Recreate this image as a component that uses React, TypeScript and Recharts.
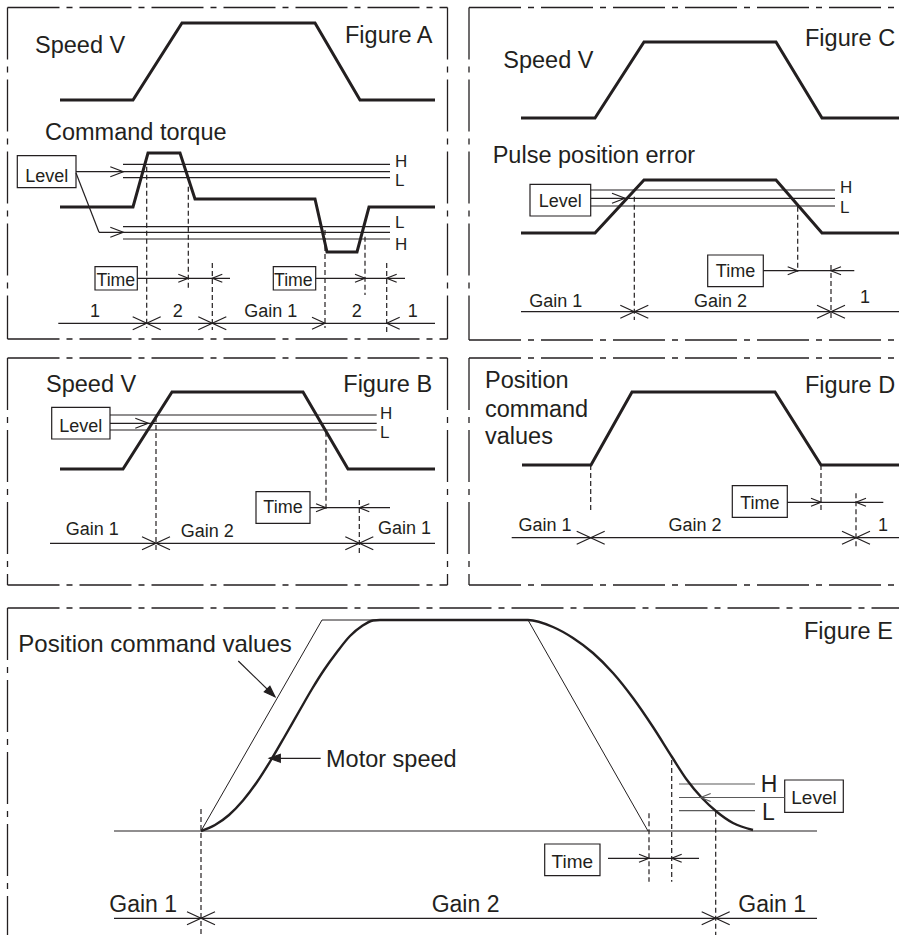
import React from "react";
import {
  ComposedChart,
  Line,
  XAxis,
  YAxis,
  ReferenceLine,
  ReferenceDot,
  ReferenceArea,
} from "recharts";

const W = 899;
const H = 935;
const INK = "#231f20";
const FONT = "'Liberation Sans', Arial, Helvetica, sans-serif";

type Pt = { x: number; y: number };

// ---- waveforms (x = time, y = signal level, page units, y grows downwards)
const speedA: Pt[] = [
  { x: 60, y: 100 }, { x: 133, y: 100 }, { x: 182, y: 23 },
  { x: 315, y: 23 }, { x: 360, y: 100 }, { x: 435, y: 100 },
];
const torqueA: Pt[] = [
  { x: 60, y: 207 }, { x: 133, y: 207 }, { x: 148, y: 153 }, { x: 180, y: 153 },
  { x: 195, y: 199 }, { x: 315, y: 199 }, { x: 327, y: 252 }, { x: 357, y: 252 },
  { x: 369, y: 207 }, { x: 435, y: 207 },
];
const speedC: Pt[] = [
  { x: 521, y: 118 }, { x: 595, y: 118 }, { x: 644, y: 42 },
  { x: 776, y: 42 }, { x: 822, y: 118 }, { x: 899, y: 118 },
];
const errorC: Pt[] = [
  { x: 521, y: 233 }, { x: 595, y: 233 }, { x: 644, y: 180 },
  { x: 776, y: 180 }, { x: 822, y: 233 }, { x: 899, y: 233 },
];
const speedB: Pt[] = [
  { x: 60, y: 469 }, { x: 123, y: 469 }, { x: 172, y: 392 },
  { x: 303, y: 392 }, { x: 348, y: 469 }, { x: 435, y: 469 },
];
const commandD: Pt[] = [
  { x: 522, y: 465 }, { x: 591, y: 465 }, { x: 632, y: 392 },
  { x: 775, y: 392 }, { x: 821, y: 465 }, { x: 899, y: 465 },
];
const commandE: Pt[] = [
  { x: 201, y: 831 }, { x: 322, y: 620 }, { x: 528, y: 620 }, { x: 648, y: 831 },
];
const motorE: Pt[] = [
  { x: 201, y: 831 }, { x: 215, y: 825 }, { x: 229, y: 815 }, { x: 243, y: 800.5 },
  { x: 257, y: 782 }, { x: 271, y: 760 }, { x: 285, y: 736 }, { x: 299, y: 711.5 },
  { x: 312, y: 689 }, { x: 324, y: 670 }, { x: 337, y: 652 }, { x: 350, y: 636 },
  { x: 362, y: 626 }, { x: 373, y: 620.5 }, { x: 380, y: 620 }, { x: 528, y: 620 },
  { x: 553, y: 627 }, { x: 573, y: 638 }, { x: 593, y: 653 }, { x: 613, y: 673 },
  { x: 633, y: 698 }, { x: 653, y: 727 }, { x: 672, y: 757 }, { x: 687, y: 780 },
  { x: 702, y: 798 }, { x: 717, y: 812 }, { x: 733, y: 823 }, { x: 753, y: 830 },
];

const waves = [
  { id: "speedA", data: speedA, w: 3, type: "linear" },
  { id: "torqueA", data: torqueA, w: 3, type: "linear" },
  { id: "speedC", data: speedC, w: 3, type: "linear" },
  { id: "errorC", data: errorC, w: 3, type: "linear" },
  { id: "speedB", data: speedB, w: 3, type: "linear" },
  { id: "commandD", data: commandD, w: 3, type: "linear" },
  { id: "commandE", data: commandE, w: 1, type: "linear" },
  { id: "motorE", data: motorE, w: 2.4, type: "monotone" },
];

// ---- layout of the annotations
const frames = [
  { x1: 7.5, y1: 7.5, x2: 447.5, y2: 339, sides: "tlbr" },
  { x1: 469, y1: 7.5, x2: 899, y2: 340, sides: "tlb" },
  { x1: 7.5, y1: 358, x2: 447.5, y2: 585, sides: "tlbr" },
  { x1: 469, y1: 358, x2: 899, y2: 585, sides: "tlb" },
  { x1: 7.5, y1: 608, x2: 899, y2: 935, sides: "tl" },
];

// thin solid lines
const thin = [
  // A levels
  { x1: 123, y1: 164.3, x2: 390, y2: 164.3 },
  { x1: 76, y1: 171.7, x2: 390, y2: 171.7 },
  { x1: 123, y1: 177.7, x2: 390, y2: 177.7 },
  { x1: 123, y1: 226.7, x2: 390, y2: 226.7 },
  { x1: 99, y1: 232.3, x2: 390, y2: 232.3 },
  { x1: 123, y1: 239, x2: 390, y2: 239 },
  { x1: 76, y1: 173, x2: 99, y2: 232.3 },
  // C levels
  { x1: 590.7, y1: 190, x2: 835, y2: 190 },
  { x1: 590.7, y1: 198.3, x2: 835, y2: 198.3 },
  { x1: 590.7, y1: 206, x2: 835, y2: 206 },
  // B levels
  { x1: 110, y1: 415, x2: 376.7, y2: 415 },
  { x1: 110, y1: 423.3, x2: 376.7, y2: 423.3 },
  { x1: 110, y1: 430, x2: 376.7, y2: 430 },
  // E baseline and pointers
  { x1: 114, y1: 831, x2: 817, y2: 831 },
  { x1: 238.3, y1: 661, x2: 275, y2: 696.7 },
  { x1: 320.7, y1: 758.3, x2: 269.3, y2: 758.3 },
];
const greyLevelsE = [
  { x1: 679, y1: 784, x2: 755, y2: 784 },
  { x1: 679, y1: 797.5, x2: 784.7, y2: 797.5 },
  { x1: 679, y1: 810.7, x2: 755, y2: 810.7 },
];

// dashed vertical markers
const dashes = [
  { x: 146.7, y1: 166.7, y2: 328 }, { x: 188.3, y1: 186.7, y2: 290 },
  { x: 212.3, y1: 263, y2: 330 }, { x: 325, y1: 230, y2: 328 },
  { x: 365, y1: 236.7, y2: 295 }, { x: 386.7, y1: 263, y2: 333 },
  { x: 634.3, y1: 196.7, y2: 320 }, { x: 797.7, y1: 206.7, y2: 271.7 },
  { x: 831, y1: 265, y2: 320 },
  { x: 156, y1: 417, y2: 551.7 }, { x: 326, y1: 431.7, y2: 511.7 },
  { x: 359.3, y1: 500, y2: 553.3 },
  { x: 590.7, y1: 465, y2: 510 }, { x: 821, y1: 465, y2: 510 },
  { x: 856, y1: 493.3, y2: 546.7 },
  { x: 201, y1: 809, y2: 935 }, { x: 649, y1: 813.3, y2: 881.7 },
  { x: 671.7, y1: 760, y2: 881.7 }, { x: 715.7, y1: 811.7, y2: 935 },
];

// "Time" delay lines: arrow into r, arrow into l from the right
const timeLines = [
  { y: 278.3, x1: 137.3, x2: 230, r: 188.3, l: 212.3 },
  { y: 278.3, x1: 315.7, x2: 405, r: 365, l: 386.7 },
  { y: 270.7, x1: 763.3, x2: 854.3, r: 797.7, l: 831 },
  { y: 507.7, x1: 310, x2: 390, r: 326, l: 359.3 },
  { y: 502.3, x1: 787.3, x2: 883.3, r: 821, l: 856 },
  { y: 858.3, x1: 608, x2: 699, r: 649, l: 671.7 },
];

// gain lines with switching marks (x = both heads, r / l = one head)
const gainLines = [
  { y: 323.3, x1: 58.3, x2: 435, x: [146.7, 212.3], r: [325], l: [386.7] },
  { y: 311.7, x1: 521, x2: 899, x: [634.3, 831], r: [], l: [] },
  { y: 543.3, x1: 50, x2: 435, x: [156, 359.3], r: [], l: [] },
  { y: 537.7, x1: 511.7, x2: 899, x: [590.7, 856], r: [], l: [] },
  { y: 918.3, x1: 114, x2: 817, x: [201, 715.7], r: [], l: [] },
];

// arrow heads on the "Level" pointers
const levelHeads = [
  { x: 123.3, y: 171.7, a: 0 }, { x: 123.3, y: 232.3, a: 0 },
  { x: 625, y: 198.3, a: 0 }, { x: 148.3, y: 423.3, a: 0 },
];

const boxes = [
  { x1: 17.3, y1: 155.7, x2: 76, y2: 187.7 },
  { x1: 95, y1: 266.7, x2: 137.3, y2: 290 },
  { x1: 273.3, y1: 266.7, x2: 315.7, y2: 290 },
  { x1: 530, y1: 184.3, x2: 590.7, y2: 216 },
  { x1: 707.7, y1: 255, x2: 763.3, y2: 286.7 },
  { x1: 51.7, y1: 407.3, x2: 110, y2: 439 },
  { x1: 256, y1: 491.7, x2: 310, y2: 523.3 },
  { x1: 732.3, y1: 485.7, x2: 787.3, y2: 517.3 },
  { x1: 784.7, y1: 780, x2: 843.3, y2: 812.3 },
  { x1: 544.7, y1: 844, x2: 600, y2: 875.7 },
];

type Lbl = { s: string; x: number; y: number; f: number; a?: "start" | "middle" };
const labels: Lbl[] = [
  // A
  { s: "Speed V", x: 35, y: 52.7, f: 23.5 },
  { s: "Figure A", x: 345, y: 42.7, f: 23.5 },
  { s: "Command torque", x: 45, y: 140, f: 23.5 },
  { s: "Level", x: 46.7, y: 181.7, f: 18, a: "middle" },
  { s: "H", x: 395, y: 167, f: 17 },
  { s: "L", x: 395, y: 186, f: 17 },
  { s: "L", x: 395, y: 228.3, f: 17 },
  { s: "H", x: 395, y: 250, f: 17 },
  { s: "Time", x: 96.5, y: 286, f: 17.7 },
  { s: "Time", x: 274, y: 286, f: 17.7 },
  { s: "1", x: 95, y: 316.7, f: 18, a: "middle" },
  { s: "2", x: 177.7, y: 316.7, f: 18, a: "middle" },
  { s: "Gain 1", x: 270.7, y: 316.7, f: 18, a: "middle" },
  { s: "2", x: 356.7, y: 316.7, f: 18, a: "middle" },
  { s: "1", x: 412.7, y: 316.7, f: 18, a: "middle" },
  // C
  { s: "Speed V", x: 503.3, y: 67.5, f: 23.5 },
  { s: "Figure C", x: 805, y: 46, f: 23.5 },
  { s: "Pulse position error", x: 492.7, y: 162.5, f: 23.5 },
  { s: "Level", x: 560.3, y: 206.7, f: 18, a: "middle" },
  { s: "H", x: 840, y: 193.3, f: 17 },
  { s: "L", x: 840, y: 213.3, f: 17 },
  { s: "Time", x: 735.5, y: 277.3, f: 18, a: "middle" },
  { s: "Gain 1", x: 555.7, y: 307, f: 18, a: "middle" },
  { s: "Gain 2", x: 720.5, y: 307, f: 18, a: "middle" },
  { s: "1", x: 865, y: 303.3, f: 18, a: "middle" },
  // B
  { s: "Speed V", x: 46, y: 391.7, f: 23.5 },
  { s: "Figure B", x: 343.3, y: 391.7, f: 23.5 },
  { s: "Level", x: 80.8, y: 431.7, f: 18, a: "middle" },
  { s: "H", x: 380, y: 419.3, f: 17 },
  { s: "L", x: 380, y: 437.7, f: 17 },
  { s: "Time", x: 283, y: 512.7, f: 18, a: "middle" },
  { s: "Gain 1", x: 92.2, y: 535, f: 18, a: "middle" },
  { s: "Gain 2", x: 207.2, y: 536.7, f: 18, a: "middle" },
  { s: "Gain 1", x: 404.5, y: 534, f: 18, a: "middle" },
  // D
  { s: "Position", x: 485, y: 388.3, f: 23.5 },
  { s: "command", x: 485, y: 416.7, f: 23.5 },
  { s: "values", x: 485, y: 444.3, f: 23.5 },
  { s: "Figure D", x: 805, y: 393.3, f: 23.5 },
  { s: "Time", x: 759.8, y: 509, f: 18, a: "middle" },
  { s: "Gain 1", x: 545, y: 530.7, f: 18, a: "middle" },
  { s: "Gain 2", x: 695, y: 530.7, f: 18, a: "middle" },
  { s: "1", x: 883, y: 530.7, f: 18, a: "middle" },
  // E
  { s: "Position command values", x: 18.3, y: 651.7, f: 24 },
  { s: "Motor speed", x: 326, y: 766.7, f: 23.5 },
  { s: "Figure E", x: 804, y: 639, f: 23.5 },
  { s: "H", x: 760.7, y: 791.7, f: 23 },
  { s: "L", x: 762, y: 820, f: 23 },
  { s: "Level", x: 814, y: 804.3, f: 19, a: "middle" },
  { s: "Time", x: 572.3, y: 868.3, f: 19, a: "middle" },
  { s: "Gain 1", x: 109.3, y: 911.7, f: 23 },
  { s: "Gain 2", x: 431.7, y: 911.7, f: 23 },
  { s: "Gain 1", x: 738.3, y: 911.7, f: 23 },
];

// ---- drawing helpers
const seg = (
  key: string,
  x1: number, y1: number, x2: number, y2: number,
  w = 1.2, dash?: string, color = INK
) => (
  <ReferenceLine
    key={key}
    segment={[{ x: x1, y: y1 }, { x: x2, y: y2 }]}
    stroke={color}
    strokeWidth={w}
    strokeDasharray={dash}
    ifOverflow="visible"
  />
);

const head = (
  key: string, x: number, y: number, angle: number,
  len = 10, hw = 4, filled = false, color = INK
) => (
  <ReferenceDot
    key={key}
    x={x}
    y={y}
    r={0}
    ifOverflow="visible"
    shape={(p: any) => (
      <path
        d={`M${-len},${-hw}L0,0L${-len},${hw}${filled ? "Z" : ""}`}
        transform={`translate(${p.cx},${p.cy}) rotate(${angle})`}
        fill={filled ? color : "none"}
        stroke={color}
        strokeWidth={1.2}
      />
    )}
  />
);

const text = (key: string, l: Lbl) => (
  <ReferenceDot
    key={key}
    x={l.x}
    y={l.y}
    r={0}
    ifOverflow="visible"
    shape={(p: any) => (
      <text
        x={p.cx}
        y={p.cy}
        fontSize={l.f}
        fontFamily={FONT}
        fill={INK}
        textAnchor={l.a ?? "start"}
      >
        {l.s}
      </text>
    )}
  />
);

export default function App() {
  const frameEls = frames.flatMap((f, i) => {
    const d = "52 7 6 7";
    const out = [];
    if (f.sides.includes("t")) out.push(seg(`ft${i}`, f.x1, f.y1, f.x2, f.y1, 1.3, d));
    if (f.sides.includes("l")) out.push(seg(`fl${i}`, f.x1, f.y1, f.x1, f.y2, 1.3, d));
    if (f.sides.includes("b")) out.push(seg(`fb${i}`, f.x1, f.y2, f.x2, f.y2, 1.3, d));
    if (f.sides.includes("r")) out.push(seg(`fr${i}`, f.x2, f.y1, f.x2, f.y2, 1.3, d));
    return out;
  });

  const pointerAngle = (Math.atan2(696.7 - 661, 275 - 238.3) * 180) / Math.PI;

  return (
    <div style={{ position: "absolute", left: 0, top: 0, width: W, height: H, background: "#fff" }}>
      <ComposedChart width={W} height={H} margin={{ top: 0, right: 0, bottom: 0, left: 0 }}>
        <XAxis type="number" dataKey="x" domain={[0, W]} hide allowDataOverflow />
        <YAxis type="number" domain={[0, H]} reversed hide allowDataOverflow />

        {frameEls}
        {thin.map((s, i) => seg(`t${i}`, s.x1, s.y1, s.x2, s.y2, 1.2))}
        {greyLevelsE.map((s, i) => seg(`g${i}`, s.x1, s.y1, s.x2, s.y2, 1.2, undefined, "#5a5a5a"))}
        {dashes.map((d, i) => seg(`d${i}`, d.x, d.y1, d.x, d.y2, 1.2, "5 3"))}

        {timeLines.flatMap((t, i) => [
          seg(`tl${i}`, t.x1, t.y, t.x2, t.y, 1.2),
          head(`tr${i}`, t.r, t.y, 0, 10, 4),
          head(`tL${i}`, t.l, t.y, 180, 10, 4),
        ])}

        {gainLines.flatMap((g, i) => [
          seg(`gl${i}`, g.x1, g.y, g.x2, g.y, 1.3),
          ...g.x.flatMap((x, j) => [
            head(`gx${i}-${j}a`, x, g.y, 0, 14, 6.5),
            head(`gx${i}-${j}b`, x, g.y, 180, 14, 6.5),
          ]),
          ...g.r.map((x, j) => head(`gr${i}-${j}`, x, g.y, 0, 13, 6)),
          ...g.l.map((x, j) => head(`gL${i}-${j}`, x, g.y, 180, 13, 6)),
        ])}

        {levelHeads.map((h, i) => head(`lh${i}`, h.x, h.y, h.a, 13, 5))}
        {head("lhE", 700.7, 797.5, 180, 10, 4, false, "#5a5a5a")}
        {head("pE1", 275, 696.7, pointerAngle, 11, 4, true)}
        {head("pE2", 269.3, 758.3, 180, 11, 4, true)}

        {boxes.map((b, i) => (
          <ReferenceArea
            key={`b${i}`}
            x1={b.x1}
            x2={b.x2}
            y1={b.y1}
            y2={b.y2}
            fill="none"
            stroke={INK}
            strokeWidth={1.2}
            ifOverflow="visible"
          />
        ))}

        {waves.map((w) => (
          <Line
            key={w.id}
            data={w.data}
            dataKey="y"
            type={w.type as any}
            stroke={INK}
            strokeWidth={w.w}
            strokeLinejoin="miter"
            dot={false}
            activeDot={false}
            isAnimationActive={false}
          />
        ))}

        {labels.map((l, i) => text(`lb${i}`, l))}
      </ComposedChart>
    </div>
  );
}
